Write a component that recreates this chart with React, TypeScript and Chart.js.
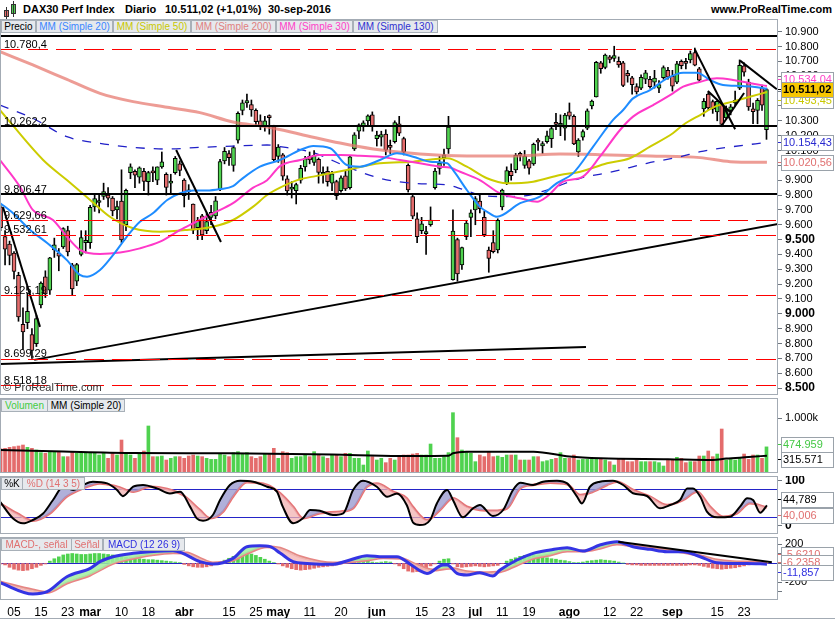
import React, { useEffect, useRef } from "react";
import { Chart, registerables } from "chart.js";
Chart.register(...registerables);

const FONT = "'Liberation Sans', Arial, Helvetica, sans-serif";

// ---------------- DATA ----------------
// trading days 1 Feb 2016 (idx 0) .. 30 Sep 2016 (idx 172)
const tickIdx = [4, 10, 16, 21, 28, 34, 42, 52, 58, 63, 70, 77, 85, 95, 101, 107, 113, 119, 128, 137, 143, 151, 161, 167];
const tickText = ["05", "15", "23", "mar", "10", "18", "abr", "15", "25", "may", "11", "20", "jun", "15", "23", "jul", "11", "19", "ago", "12", "22", "sep", "15", "23"];
const monthNames = ["mar", "abr", "may", "jun", "jul", "ago", "sep"];

const opens = [
  9790, 9720, 9520, 9470, 9410, 9260, 8930, 8940, 8860, 8800,
  9060, 9250, 9160, 9430, 9410, 9450, 9560, 9330, 9220, 9400,
  9480, 9480, 9720, 9750, 9790, 9800, 9780, 9700, 9760, 9600,
  9950, 9960, 9920, 9960, 9890, 9960, 9900, 9990, 9940, 9880,
  9950, 10010, 9900, 9830, 9740, 9580, 9660, 9560, 9650, 9660,
  9840, 10030, 10080, 10000, 10170, 10370, 10420, 10410, 10370, 10300,
  10260, 10330, 10260, 10060, 10070, 9910, 9840, 9830, 9900, 9990,
  10060, 10020, 10040, 9940, 9960, 9880, 9890, 9830, 9930, 9850,
  10110, 10230, 10260, 10300, 10340, 10180, 10190, 10210, 10130, 10160,
  10280, 10180, 10000, 9790, 9640, 9560, 9540, 9600, 9850, 9980,
  10050, 10110, 9230, 9500, 9330, 9520, 9650, 9700, 9760, 9650,
  9430, 9480, 9430, 9720, 9880, 9960, 9970, 10070, 10000, 10030,
  10010, 10160, 10130, 10160, 10180, 10290, 10270, 10250, 10360, 10330,
  10090, 10190, 10250, 10400, 10460, 10690, 10660, 10730, 10720, 10700,
  10690, 10620, 10590, 10530, 10520, 10580, 10580, 10560, 10520, 10590,
  10640, 10600, 10560, 10700, 10690, 10710, 10760, 10650, 10380, 10480,
  10430, 10360, 10410, 10320, 10370, 10420, 10520, 10670, 10560, 10380,
  10370, 10520, 10240,
];
const highs = [
  9830, 9730, 9560, 9490, 9420, 9280, 9040, 9140, 8900, 8990,
  9215, 9290, 9380, 9510, 9440, 9580, 9590, 9340, 9340, 9560,
  9560, 9730, 9800, 9800, 9880, 9850, 9790, 9760, 9970, 9840,
  10010, 9970, 9990, 9980, 9960, 9990, 9990, 10090, 9950, 9940,
  10060, 10030, 9910, 9870, 9740, 9650, 9670, 9680, 9730, 9790,
  10040, 10120, 10100, 10130, 10360, 10440, 10480, 10440, 10380, 10340,
  10330, 10340, 10270, 10140, 10080, 9930, 9890, 9880, 10000, 10060,
  10090, 10100, 10050, 9990, 9990, 9960, 9900, 9930, 9960, 10060,
  10220, 10280, 10300, 10340, 10360, 10230, 10230, 10240, 10170, 10300,
  10330, 10190, 10010, 9810, 9680, 9650, 9590, 9720, 9980, 10060,
  10110, 10330, 9700, 9510, 9450, 9630, 9700, 9790, 9810, 9690,
  9450, 9560, 9640, 9840, 9990, 10010, 10080, 10090, 10100, 10040,
  10150, 10180, 10160, 10230, 10260, 10350, 10340, 10350, 10420, 10340,
  10180, 10240, 10380, 10440, 10700, 10700, 10750, 10740, 10802, 10730,
  10700, 10640, 10600, 10550, 10610, 10640, 10600, 10640, 10570, 10670,
  10660, 10640, 10700, 10710, 10720, 10770, 10790, 10660, 10450, 10490,
  10440, 10440, 10420, 10400, 10410, 10500, 10710, 10690, 10580, 10420,
  10450, 10540, 10520,
];
const lows = [
  9680, 9560, 9330, 9330, 9236, 8950, 8760, 8900, 8699, 8780,
  9040, 9110, 9130, 9380, 9290, 9440, 9390, 9125, 9190, 9390,
  9410, 9440, 9690, 9680, 9770, 9720, 9660, 9640, 9480, 9560,
  9910, 9850, 9880, 9830, 9800, 9890, 9870, 9980, 9800, 9810,
  9940, 9930, 9720, 9770, 9540, 9500, 9500, 9540, 9600, 9640,
  9830, 10010, 10000, 9960, 10150, 10340, 10390, 10330, 10260, 10240,
  10230, 10210, 10030, 10020, 9900, 9800, 9780, 9740, 9880, 9960,
  10010, 10000, 9880, 9880, 9860, 9830, 9770, 9820, 9830, 9840,
  10100, 10180, 10230, 10270, 10230, 10130, 10130, 10070, 10080, 10150,
  10200, 10070, 9820, 9640, 9480, 9540, 9400, 9590, 9840, 9940,
  10000, 10080, 9226, 9220, 9300, 9500, 9520, 9600, 9680, 9520,
  9280, 9410, 9410, 9700, 9870, 9900, 9950, 10030, 9980, 9940,
  10000, 10100, 10080, 10150, 10120, 10240, 10200, 10170, 10310, 10140,
  10060, 10170, 10240, 10380, 10460, 10620, 10650, 10690, 10700, 10660,
  10530, 10560, 10480, 10480, 10510, 10550, 10520, 10520, 10490, 10580,
  10580, 10500, 10550, 10650, 10650, 10690, 10670, 10560, 10330, 10370,
  10350, 10300, 10260, 10310, 10340, 10400, 10510, 10600, 10370, 10280,
  10280, 10370, 10175,
];
const closes = [
  9758, 9581, 9435, 9393, 9286, 8979, 8879, 9017, 8753, 8968,
  9207, 9135, 9377, 9464, 9388, 9574, 9417, 9168, 9331, 9513,
  9495, 9717, 9777, 9752, 9824, 9779, 9693, 9723, 9498, 9831,
  9990, 9934, 9983, 9892, 9951, 9949, 9990, 10023, 9851, 9888,
  10047, 9966, 9795, 9822, 9563, 9625, 9531, 9622, 9683, 9761,
  10026, 10094, 10052, 10120, 10350, 10421, 10436, 10373, 10294, 10260,
  10300, 10321, 10039, 10123, 9927, 9828, 9852, 9870, 9980, 10045,
  10037, 10068, 9953, 9953, 9890, 9943, 9796, 9916, 9842, 10057,
  10205, 10273, 10286, 10333, 10263, 10204, 10208, 10103, 10121, 10288,
  10217, 10089, 9835, 9657, 9519, 9607, 9550, 9631, 9962, 10016,
  10071, 10257, 9557, 9269, 9447, 9612, 9680, 9776, 9709, 9533,
  9373, 9419, 9630, 9833, 9964, 9931, 10068, 10067, 10063, 9981,
  10142, 10156, 10147, 10198, 10248, 10275, 10274, 10338, 10331, 10144,
  10170, 10228, 10367, 10432, 10693, 10651, 10743, 10713, 10739, 10677,
  10538, 10603, 10544, 10494, 10593, 10623, 10530, 10588, 10544, 10658,
  10593, 10534, 10684, 10672, 10687, 10753, 10675, 10573, 10431, 10387,
  10378, 10431, 10276, 10374, 10394, 10437, 10674, 10627, 10394, 10361,
  10438, 10406, 10511,
];
// volume in thousands
const volumes = [
  430, 440, 449, 467, 479, 491, 509, 467, 449, 418,
  370, 358, 388, 388, 388, 297, 297, 388, 358, 358,
  358, 358, 358, 327, 358, 267, 358, 327, 600, 370,
  327, 267, 358, 400, 855, 297, 297, 309, 236, 267,
  297, 297, 267, 309, 327, 309, 297, 267, 248, 248,
  358, 327, 297, 370, 388, 358, 370, 297, 267, 297,
  358, 358, 449, 267, 388, 370, 267, 297, 297, 327,
  297, 388, 327, 297, 267, 327, 327, 297, 358, 358,
  267, 267, 145, 400, 297, 236, 267, 188, 267, 236,
  297, 327, 327, 345, 358, 327, 327, 527, 267, 267,
  297, 370, 1097, 642, 418, 388, 358, 206, 327, 297,
  388, 297, 309, 285, 327, 327, 327, 236, 236, 236,
  297, 297, 206, 224, 248, 267, 370, 267, 267, 327,
  236, 248, 248, 248, 248, 267, 236, 206, 145, 267,
  267, 206, 206, 236, 206, 206, 206, 206, 188, 127,
  236, 236, 285, 267, 188, 206, 206, 309, 309, 400,
  297, 345, 800, 236, 248, 236, 267, 345, 248, 327,
  327, 267, 475,
];
const macdHist = [
  -5, -10, -20, -45, -65, -75, -80, -75, -60, -45, -25, -10,
  20, 45, 65, 85, 95, 100, 95, 90, 90, 95, 100, 100, 95, 90, 85, 80, 70, 60, 55, 50,
  45, 40, 35, 35, 30, 25, 20, 15, 10, 5,
  -15, -30, -40, -45, -45, -40, -30, -15,
  10, 30, 50, 70, 85, 95, 100, 95, 80, 60, 40,
  20, 5, -10, -30,
  -45, -60, -70, -75, -70, -65, -55, -45, -40, -35, -30, -20,
  -10, 5, 20, 30, 35, 30,
  20, 10, 5, 10, 15, 10,
  -10, -30, -60, -85, -95, -90,
  -70, -50, -30, -10, 20, 40,
  45,
  -10, -40, -45, -40, -35, -30, -35, -40, -35, -30, -25,
  -5, 20, 40, 55, 70, 80, 85, 80, 75, 65, 55, 45, 40, 30, 25,
  15, 5, 5, 10, 20, 25, 30, 35, 30, 25, 20, 10, 0,
  -15, -20, -20, -25, -25, -25, -25, -25, -25, -25, -25, -25, -25, -25, -20, -20,
  -25, -35, -45, -55, -60, -65, -60, -55, -50, -40, -30, -20, -15, -10, -8, -5.6,
];

// moving averages / indicators read at sample positions [dayIndex, value]
const sma20: number[][] = [[0.87, 9747], [3.8, 9678], [7.6, 9565], [11.4, 9477], [15.8, 9362], [18.7, 9262], [20.3, 9250], [23.2, 9295], [26.1, 9395], [29.2, 9520], [32.1, 9620], [35, 9677], [38.2, 9767], [41.1, 9812], [44, 9830], [47.1, 9830], [50, 9840], [52.9, 9860], [54.5, 9900], [58.9, 9991], [63.4, 10036], [67.9, 10103], [70.8, 10130], [74.6, 10115], [78.3, 10002], [81.2, 9991], [85.7, 10036], [89.5, 10081], [93.1, 10058], [96.9, 10025], [100.7, 10014], [102, 9969], [105.1, 9834], [108, 9722], [110, 9680], [111.8, 9654], [117, 9745], [121.4, 9790], [125.2, 9880], [128.8, 9946], [133.3, 10126], [137.7, 10305], [140, 10373], [142.2, 10451], [146, 10507], [149.8, 10586], [153.4, 10624], [156.5, 10624], [159.4, 10575], [162.3, 10541], [166.1, 10535], [169, 10530], [172.1, 10515]];
const sma50: number[][] = [[0.87, 10372], [10.5, 10036], [15.8, 9901], [21, 9767], [25.4, 9654], [30.6, 9576], [36.6, 9553], [42.6, 9565], [48.4, 9587], [52.9, 9632], [57.4, 9722], [60.5, 9800], [63.4, 9850], [67.9, 9907], [70.8, 9924], [78.3, 9969], [85.7, 10014], [93.1, 10025], [100.7, 10048], [105.1, 9991], [109.6, 9913], [114.1, 9879], [119.9, 9890], [125.9, 9935], [130.4, 9957], [136.4, 10014], [141.5, 10048], [146, 10126], [151.1, 10216], [153.4, 10272], [157.2, 10339], [160.9, 10400], [164.5, 10429], [168.3, 10462], [172.1, 10493.45]];
const sma200: number[][] = [[0.87, 10766], [8.2, 10676], [15.8, 10579], [23.2, 10485], [30.6, 10429], [38.2, 10391], [45.5, 10355], [52.9, 10292], [60.5, 10258], [67.9, 10210], [76.8, 10150], [84.2, 10110], [94.6, 10076], [105.1, 10063], [115.4, 10063], [125.9, 10076], [134.8, 10072], [146, 10063], [157.2, 10052], [163.9, 10025], [172.1, 10020.56]];
const sma30: number[][] = [[0.87, 10036], [5.3, 9857], [8.2, 9700], [12.7, 9632], [15.8, 9520], [18.7, 9431], [23.2, 9403], [27.7, 9413], [32.1, 9441], [36.6, 9486], [41.1, 9565], [44, 9610], [48.4, 9677], [52.9, 9745], [57.4, 9850], [60.5, 9900], [63.4, 9995], [67.9, 10036], [72.3, 10070], [76.8, 10070], [81.2, 10065], [85.7, 10058], [90.2, 10036], [94.6, 10014], [99.1, 9991], [101.3, 9985], [103.6, 9957], [108, 9901], [112.5, 9812], [117, 9778], [120.8, 9755], [123, 9790], [126.6, 9890], [131, 9924], [134.8, 10058], [139.3, 10238], [142.2, 10328], [146.7, 10406], [151.1, 10485], [153.4, 10530], [157.2, 10563], [160.9, 10586], [164.5, 10575], [168.3, 10553], [172.1, 10534.04]];
const sma130: number[][] = [[0.87, 10406], [8.2, 10317], [15.8, 10193], [23.2, 10148], [30.6, 10121], [38.2, 10110], [45.5, 10121], [52.9, 10130], [60.5, 10137], [63.4, 10126], [70.8, 10085], [78.3, 9991], [85.7, 9913], [93.1, 9879], [100.7, 9868], [104, 9840], [108, 9800], [113, 9790], [118, 9795], [123, 9834], [130.4, 9913], [137.7, 9957], [145.3, 10014], [152.7, 10058], [157.2, 10092], [164.5, 10126], [172.1, 10154.43]];
const volMA: number[][] = [[0.87, 418], [15, 390], [30, 365], [52, 358], [75, 335], [90, 310], [101, 315], [102, 358], [105, 388], [120, 388], [128, 300], [135, 267], [150, 250], [160, 236], [163, 262], [168, 290], [172.1, 315.571]];
const stochK: number[][] = [[0.87, 53], [3.8, 16], [6, 5.5], [8.2, 12.7], [10.5, 27], [12.7, 56.6], [15, 85.7], [17.2, 78.5], [19.4, 89.5], [21.6, 96.7], [24.8, 93], [27, 78.5], [28.3, 65], [30.6, 85.7], [32.8, 89.5], [35.9, 82], [38.8, 71], [41.1, 74.8], [43.3, 42], [44.8, 16.4], [46.2, 11], [48.4, 23.7], [50, 56.6], [52.2, 89.5], [54.5, 99], [57.4, 96.7], [60.5, 85.7], [62.7, 74.8], [64, 42], [66.3, 5.5], [68.5, 16.4], [70.1, 34.6], [72.3, 33], [75.2, 23.7], [77.5, 27.4], [79.7, 78.5], [81.9, 99], [85, 85.7], [87.3, 63.8], [89.5, 71], [91.7, 45], [93.1, 7], [94.6, 1.8], [96.9, 12.7], [98.4, 49], [100.7, 78.5], [102, 56.6], [104.2, 18.6], [106.5, 38.4], [108, 45.6], [110.9, 21.5], [113.2, 34.6], [115.4, 78.5], [117, 94.5], [119.9, 89.5], [122.1, 96.7], [125.2, 99], [127.5, 93], [129.7, 64], [130.8, 49], [132.6, 85.7], [134.8, 96.7], [137.7, 99], [140, 89.5], [142.2, 71.3], [145.3, 65.4], [148.2, 38.4], [150.5, 45.6], [152.7, 56.6], [154.3, 82], [155.6, 82], [157.2, 64], [158.7, 31], [161, 18.6], [163.9, 20], [166.1, 42], [167.7, 60.3], [169, 56.6], [170.6, 28.7], [172.1, 44.789]];
const stochD: number[][] = [[0.87, 49], [4.7, 27], [8.2, 11], [12, 27], [15.8, 64], [19.4, 82], [23.2, 93], [27, 85.7], [30.6, 74.8], [34.4, 85.7], [38.2, 80.7], [41.7, 67.5], [45.5, 34.6], [47.8, 16.4], [50.7, 31], [52.9, 64], [56, 95.3], [60.5, 89.5], [63.4, 71.3], [66.3, 42], [68.5, 16.4], [72.3, 27.4], [76.8, 31], [79.7, 38.4], [82.8, 85.7], [85, 93], [88.6, 74.8], [91.7, 60], [93, 42], [96.2, 12.7], [99.1, 34.6], [102, 60.3], [105.1, 42], [108, 34.6], [110.9, 33], [114.1, 38.4], [117, 82], [119.9, 89.5], [123.7, 94.5], [127.5, 91], [130.4, 67.5], [133.3, 74.8], [136.4, 89.5], [138.6, 96.7], [142.2, 78.5], [146, 64], [149.8, 45.6], [153.4, 56.6], [156.5, 74.8], [159.4, 42], [162.3, 20], [165.4, 27.4], [168.3, 49.3], [172.1, 40.006]];
const macdLine: number[][] = [[0.87, -207], [8.2, -326], [11.4, -302], [15.8, -144], [21, -56], [23.2, 14], [26.1, 66], [30.6, 102], [34.4, 119], [39.5, 130], [41.7, 102], [45.5, 14], [48.4, -11], [52.9, 49], [56, 172], [58.9, 182], [61.2, 172], [63.4, 105], [66.3, 14], [69.4, -4], [75.2, -14], [79, 32], [82.8, 77], [86.4, 66], [89.5, 66], [92.4, -10], [94.6, -80], [96.2, -109], [99.8, -21], [100.7, -21], [102.9, -109], [105.1, -126], [108, -102], [110.9, -137], [112.5, -74], [116.3, 32], [119.9, 102], [123.7, 137], [127.5, 161], [131, 126], [134.8, 189], [138.6, 224], [142.2, 172], [146, 144], [149.8, 119], [153.4, 119], [157.2, 66], [160.9, 3], [164.5, -4], [167.6, -4], [172.1, -11.857]];
const macdSignal: number[][] = [[0.87, -200], [8.2, -284], [11.4, -309], [15.8, -211], [21, -126], [26.1, -4], [30.6, 49], [34.4, 84], [39.5, 109], [42.6, 105], [45.5, 49], [48.4, 0], [52.9, 32], [56, 102], [60.5, 172], [63.4, 155], [67.9, 66], [72.3, 14], [75.2, 0], [79, 14], [82.8, 32], [86.4, 56], [90.2, 49], [94, -21], [97.5, -74], [101.3, -56], [105.1, -91], [108.7, -102], [112.5, -91], [116.3, -21], [119.9, 49], [123.7, 84], [127.5, 126], [131, 126], [134.8, 155], [138.6, 200], [142.2, 179], [146, 155], [149.8, 137], [153.4, 112], [157.2, 77], [160.9, 32], [164.5, 14], [168.3, 10], [172.1, -6.2358]];

// drawn lines on the price panel: [dayIndex, value] pairs
const trendLines: number[][][] = [
  [[8.5, 8690], [174.6, 9605]],
  [[0.87, 8662], [131.7, 8777]],
  [[1.54, 9718], [9.8, 8912]],
  [[40.2, 10103], [50.2, 9484]],
  [[156.0, 10781], [165.0, 10243]],
  [[158.9, 10501], [163.9, 10359]],
  [[162.1, 10272], [167.0, 10487]],
  [[166.1, 10705], [174.3, 10512]],
];
const macdTrend: number[][] = [[138.9, 224], [173.2, 7]];
const supportLevels = [10871, 10262.2, 9806.47];
const supportLabels = ["", "10.262,2", "9.806,47"];
const dashedLevels = [10780.4, 9629.66, 9532.61, 9125.19, 8699.29, 8518.18];
const dashedLabels = ["10.780,4", "9.629,66", "9.532,61", "9.125,19", "8.699,29", "8.518,18"];

// ---------------- STYLE ----------------
const GREEN = "#4fd24f";
const RED = "#e46c6c";
const X_MIN = 0.87;
const X_MAX = 174.57;
const AXIS_W = 57;
const idxs = opens.map((_, i) => i);
const isUp = (i: number) => closes[i] >= opens[i];
const pts = (a: number[][]) => a.map(([x, y]) => ({ x, y }));
const thousands = (v: number) => {
  const s = Math.round(Math.abs(v)).toString().replace(/\B(?=(\d{3})+(?!\d))/g, ".");
  return (v < 0 ? "-" : "") + s;
};

const xScale = (show: boolean): any => ({
  type: "linear",
  min: X_MIN,
  max: X_MAX,
  offset: false,
  display: show,
  grid: { display: false, offset: false, drawTicks: false },
  border: { display: false },
  afterBuildTicks: (s: any) => {
    if (show) s.ticks = tickIdx.map((v) => ({ value: v }));
  },
  afterFit: (s: any) => {
    if (show) s.height = 18;
    s.paddingLeft = 0;
    s.paddingRight = 0;
  },
  ticks: {
    autoSkip: false,
    maxRotation: 0,
    minRotation: 0,
    padding: 5,
    color: "#000",
    callback: (_v: any, i: number) => tickText[i],
    font: (c: any) => ({ family: FONT, size: 12, weight: monthNames.includes(tickText[c.index]) ? "bold" : "normal" }),
  },
});

const yScale = (min: number, max: number, fixed: number[] | null, step: number | null, label: (v: number) => string, bold: (v: number) => boolean): any => ({
  type: "linear",
  position: "right",
  min,
  max,
  grid: { drawOnChartArea: false, drawTicks: true, tickLength: 4, color: "#6f7780" },
  border: { display: false },
  afterFit: (s: any) => {
    s.width = AXIS_W;
    s.paddingTop = 0;
    s.paddingBottom = 0;
  },
  afterBuildTicks: (s: any) => {
    if (fixed) s.ticks = fixed.map((v) => ({ value: v }));
  },
  ticks: {
    stepSize: step || undefined,
    includeBounds: false,
    autoSkip: false,
    padding: 3,
    color: "#000",
    callback: (v: any) => label(Number(v)),
    font: (c: any) => {
      const b = c.tick ? bold(c.tick.value) : false;
      return { family: FONT, size: b ? 12 : 11, weight: b ? "bold" : "normal" };
    },
  },
});

// ---------------- PLUGINS ----------------
const drawH = (chart: any, lines: any[]) => {
  const { ctx, chartArea: a } = chart;
  const y = chart.scales.y;
  ctx.save();
  ctx.beginPath();
  ctx.rect(a.left, a.top, a.right - a.left, a.bottom - a.top);
  ctx.clip();
  for (const l of lines) {
    const py = Math.round(y.getPixelForValue(l.value)) + (l.width % 2 ? 0.5 : 0);
    ctx.strokeStyle = l.color;
    ctx.lineWidth = l.width;
    ctx.setLineDash(l.dash || []);
    ctx.beginPath();
    ctx.moveTo(a.left, py);
    ctx.lineTo(a.right, py);
    ctx.stroke();
  }
  ctx.setLineDash([]);
  ctx.fillStyle = "#000";
  ctx.font = "11px " + FONT;
  ctx.textBaseline = "alphabetic";
  ctx.textAlign = "left";
  for (const l of lines) {
    if (!l.label) continue;
    const py = y.getPixelForValue(l.value);
    ctx.fillText(l.label, a.left + 4, py - 1.5);
  }
  ctx.restore();
};
const hlinesPlugin = {
  id: "hlines",
  beforeDatasetsDraw(chart: any, _a: any, opts: any) {
    drawH(chart, (opts.lines || []).filter((l: any) => l.under));
  },
  afterDatasetsDraw(chart: any, _a: any, opts: any) {
    drawH(chart, (opts.lines || []).filter((l: any) => !l.under));
  },
};
const framePlugin = {
  id: "frame",
  afterDraw(chart: any, _a: any, opts: any) {
    const { ctx, chartArea: a } = chart;
    ctx.save();
    ctx.strokeStyle = "#a3abb4";
    ctx.lineWidth = 1;
    ctx.strokeRect(a.left + 0.5, a.top + 0.5, a.right - a.left - 1, a.bottom - a.top - 1);
    if (opts && opts.watermark) {
      ctx.fillStyle = "#333";
      ctx.font = "11px " + FONT;
      ctx.textBaseline = "bottom";
      ctx.fillText(opts.watermark, a.left + 3, a.bottom - 2);
    }
    ctx.restore();
  },
};
const boxesPlugin = {
  id: "boxes",
  afterDraw(chart: any, _a: any, opts: any) {
    const { ctx, chartArea: a } = chart;
    const y = chart.scales.y;
    ctx.save();
    for (const b of opts.items || []) {
      const cy = Math.round(y.getPixelForValue(b.value) + (b.nudge || 0));
      const x0 = a.right + 3;
      const w = 52;
      const h = 15;
      ctx.strokeStyle = b.color;
      ctx.lineWidth = 1;
      ctx.beginPath();
      ctx.moveTo(a.right, cy + 0.5);
      ctx.lineTo(a.right + 4, cy + 0.5);
      ctx.stroke();
      ctx.fillStyle = b.bg || "#fff";
      ctx.fillRect(x0, cy - 7, w, h);
      ctx.strokeStyle = "#9aa2aa";
      ctx.strokeRect(x0 + 0.5, cy - 7 + 0.5, w, h);
      ctx.fillStyle = b.color;
      ctx.font = (b.bold ? "bold " : "") + "11px " + FONT;
      ctx.textAlign = "left";
      ctx.textBaseline = "middle";
      ctx.fillText(b.text, x0 + 2, cy + 1, w - 3);
    }
    ctx.restore();
  },
};

const baseOptions = (scales: any, plugins: any): any => ({
  responsive: false,
  animation: false,
  events: [],
  layout: { padding: 0 },
  scales,
  plugins: { legend: { display: false }, tooltip: { enabled: false }, ...plugins },
});

const lineDs = (data: number[][], color: string, width: number, extra: any = {}): any => ({
  type: "line",
  data: pts(data),
  borderColor: color,
  borderWidth: width,
  pointRadius: 0,
  fill: false,
  cubicInterpolationMode: "monotone",
  ...extra,
});

// ---------------- CHART CONFIGS ----------------
const priceConfig = (): any => ({
  type: "bar",
  data: {
    datasets: [
      {
        type: "bar",
        data: idxs.map((i) => ({ x: i, y: [lows[i], highs[i]] })),
        backgroundColor: "#000",
        barThickness: 1,
        grouped: false,
        order: 20,
      },
      {
        type: "bar",
        data: idxs.map((i) => ({ x: i, y: [opens[i], closes[i]] })),
        backgroundColor: idxs.map((i) => (isUp(i) ? GREEN : RED)),
        borderColor: "#000",
        borderWidth: 1,
        borderSkipped: false,
        barThickness: 4,
        minBarLength: 2,
        grouped: false,
        order: 19,
      },
      lineDs(sma200, "rgba(230,118,108,0.72)", 3, { order: 10 }),
      lineDs(sma130, "#2020c8", 1.3, { borderDash: [9, 9], order: 9 }),
      lineDs(sma50, "#cccc00", 2, { order: 8 }),
      lineDs(sma30, "#ff38c8", 2, { order: 7 }),
      lineDs(sma20, "#1e8cff", 2, { order: 6 }),
      ...trendLines.map((t) => lineDs(t, "#000", 2, { cubicInterpolationMode: "default", tension: 0, order: 1 })),
    ],
  },
  options: baseOptions(
    {
      x: xScale(false),
      y: yScale(8453.5, 10985.5, null, 100, thousands, (v) => v % 500 === 0),
    },
    {
      frame: { watermark: "\u00a9 ProRealTime.com" },
      hlines: {
        lines: [
          ...supportLevels.map((v, i) => ({ value: v, color: "#000", width: 2, label: supportLabels[i] })),
          ...dashedLevels.map((v, i) => ({ value: v, color: "#ff0000", width: 1, dash: [20, 8], label: dashedLabels[i] })),
        ],
      },
      boxes: {
        items: [
          { value: 10534.04, text: "10.534,04", color: "#ff40c8", nudge: -7 },
          { value: 10493.45, text: "10.493,45", color: "#c8c800", nudge: 8 },
          { value: 10511.02, text: "10.511,02", color: "#000", bg: "#f7c600", bold: true },
          { value: 10154.43, text: "10.154,43", color: "#2a2ad0" },
          { value: 10020.56, text: "10.020,56", color: "#e07070" },
        ],
      },
    }
  ),
  plugins: [hlinesPlugin, framePlugin, boxesPlugin],
});

const volumeConfig = (): any => ({
  type: "bar",
  data: {
    datasets: [
      {
        type: "bar",
        data: idxs.map((i) => ({ x: i, y: volumes[i] })),
        backgroundColor: idxs.map((i) => (isUp(i) ? GREEN : RED)),
        barThickness: 3,
        grouped: false,
        order: 5,
      },
      lineDs(volMA, "#000", 2, { order: 1 }),
    ],
  },
  options: baseOptions(
    { x: xScale(false), y: yScale(0, 1364, [1000], null, (v) => (v === 1000 ? "1.000k" : ""), () => false) },
    {
      boxes: {
        items: [
          { value: 474.959, text: "474.959", color: "#44c844", nudge: -3 },
          { value: 315.571, text: "315.571", color: "#000", nudge: 3 },
        ],
      },
    }
  ),
  plugins: [framePlugin, boxesPlugin],
});

const stochConfig = (): any => ({
  type: "line",
  data: {
    datasets: [
      lineDs(stochD, "#e87474", 2.5, { order: 2 }),
      lineDs(stochK, "#000", 2, {
        order: 1,
        fill: { target: 0, above: "rgba(150,150,205,0.75)", below: "rgba(242,178,178,0.75)" },
      }),
    ],
  },
  options: baseOptions(
    { x: xScale(false), y: yScale(-18, 109.2, [0, 100], null, (v) => String(v), () => true) },
    {
      hlines: {
        lines: [
          { value: 80, color: "#2424c8", width: 1, under: true },
          { value: 20, color: "#2424c8", width: 1, under: true },
        ],
      },
      boxes: {
        items: [
          { value: 44.789, text: "44,789", color: "#000", nudge: -6 },
          { value: 40.006, text: "40,006", color: "#e07070", nudge: 7 },
        ],
      },
    }
  ),
  plugins: [hlinesPlugin, framePlugin, boxesPlugin],
});

const macdConfig = (): any => ({
  type: "bar",
  data: {
    datasets: [
      {
        type: "bar",
        data: idxs.map((i) => ({ x: i, y: macdHist[i] })),
        backgroundColor: idxs.map((i) => (macdHist[i] >= 0 ? GREEN : RED)),
        barThickness: 3,
        grouped: false,
        order: 10,
      },
      lineDs(macdSignal, "#e88484", 3, { order: 3 }),
      lineDs(macdLine, "#3434e4", 3, {
        order: 2,
        fill: { target: 1, above: "rgba(160,240,160,0.85)", below: "rgba(244,186,186,0.85)" },
      }),
      lineDs(macdTrend, "#000", 2, { cubicInterpolationMode: "default", tension: 0, order: 1 }),
    ],
  },
  options: baseOptions(
    {
      x: xScale(true),
      y: yScale(-389, 273.7, [200, 100, 0, -100, -200, -300], null, (v) => (v === 200 || v === -200 ? String(v) : ""), () => false),
    },
    {
      hlines: { lines: [{ value: 0, color: "#2424c8", width: 1, under: true }] },
      boxes: {
        items: [
          { value: -5.621, text: "-5,6210", color: "#e07070", nudge: -10 },
          { value: -6.2358, text: "-6,2358", color: "#e07070", nudge: -2 },
          { value: -11.857, text: "-11,857", color: "#3030e0", nudge: 8 },
        ],
      },
    }
  ),
  plugins: [hlinesPlugin, framePlugin, boxesPlugin],
});

// ---------------- COMPONENTS ----------------
function Panel({ top, height, make }: { top: number; height: number; make: () => any }) {
  const ref = useRef<HTMLCanvasElement | null>(null);
  useEffect(() => {
    if (!ref.current) return;
    const c = new Chart(ref.current, make());
    return () => c.destroy();
  }, []);
  return <canvas ref={ref} width={835} height={height} style={{ position: "absolute", left: 0, top, width: 835, height, display: "block" }} />;
}

function Tag({ left, top, width, color, text }: { left: number; top: number; width: number; color: string; text: string }) {
  return (
    <div
      style={{
        position: "absolute",
        left,
        top,
        width,
        height: 13,
        boxSizing: "border-box",
        background: "#e6e9ed",
        border: "1px solid #a8b0b8",
        color,
        font: "10px " + FONT,
        lineHeight: "11px",
        textAlign: "center",
        whiteSpace: "nowrap",
        overflow: "hidden",
        zIndex: 2,
      }}
    >
      {text}
    </div>
  );
}

export default function App() {
  return (
    <div style={{ position: "fixed", left: 0, top: 0, width: 835, height: 620, background: "#fff", overflow: "hidden", fontFamily: FONT }}>
      {/* header */}
      <div style={{ position: "absolute", left: 4, top: 10, width: 5, height: 7, background: RED, border: "1px solid #333", boxSizing: "border-box" }} />
      <div style={{ position: "absolute", left: 6, top: 7, width: 1, height: 12, background: "#333" }} />
      <div style={{ position: "absolute", left: 11, top: 4, width: 5, height: 10, background: GREEN, border: "1px solid #333", boxSizing: "border-box" }} />
      <div style={{ position: "absolute", left: 13, top: 1, width: 1, height: 16, background: "#333" }} />
      <div style={{ position: "absolute", left: 23, top: 3, font: "bold 11px " + FONT, color: "#000", whiteSpace: "pre" }}>DAX30 Perf Index</div>
      <div style={{ position: "absolute", left: 125, top: 3, font: "bold 11px " + FONT, color: "#000" }}>Diario</div>
      <div style={{ position: "absolute", left: 165, top: 3, font: "bold 11px " + FONT, color: "#000", whiteSpace: "pre" }}>10.511,02 (+1,01%)</div>
      <div style={{ position: "absolute", left: 268, top: 3, font: "bold 11px " + FONT, color: "#000" }}>30-sep-2016</div>
      <div style={{ position: "absolute", right: 3, top: 3, font: "bold 11px " + FONT, color: "#000" }}>www.ProRealTime.com</div>

      <Panel top={19} height={376} make={priceConfig} />
      <Panel top={398} height={75} make={volumeConfig} />
      <Panel top={476} height={58} make={stochConfig} />
      <Panel top={537} height={81} make={macdConfig} />
      <div style={{ position: "absolute", left: 0, top: 618, width: 835, height: 1, background: "#a3abb4" }} />

      <Tag left={1} top={20} width={35} color="#000" text="Precio" />
      <Tag left={36} top={20} width={77} color="#3a86ff" text="MM (Simple 20)" />
      <Tag left={113} top={20} width={78} color="#c8c800" text="MM (Simple 50)" />
      <Tag left={191} top={20} width={85} color="#e08080" text="MM (Simple 200)" />
      <Tag left={276} top={20} width={77} color="#ff40c8" text="MM (Simple 30)" />
      <Tag left={353} top={20} width={85} color="#3030d0" text="MM (Simple 130)" />

      <Tag left={1} top={399} width={47} color="#44cc44" text="Volumen" />
      <Tag left={47} top={399} width={78} color="#000" text="MM (Simple 20)" />

      <Tag left={1} top={477} width={22} color="#000" text="%K" />
      <Tag left={22} top={477} width={63} color="#e07070" text="%D (14 3 5)" />

      <Tag left={1} top={538} width={71} color="#e07070" text="MACD-, señal" />
      <Tag left={71} top={538} width={32} color="#e07070" text="Señal" />
      <Tag left={103} top={538} width={82} color="#3030e0" text="MACD (12 26 9)" />
    </div>
  );
}
